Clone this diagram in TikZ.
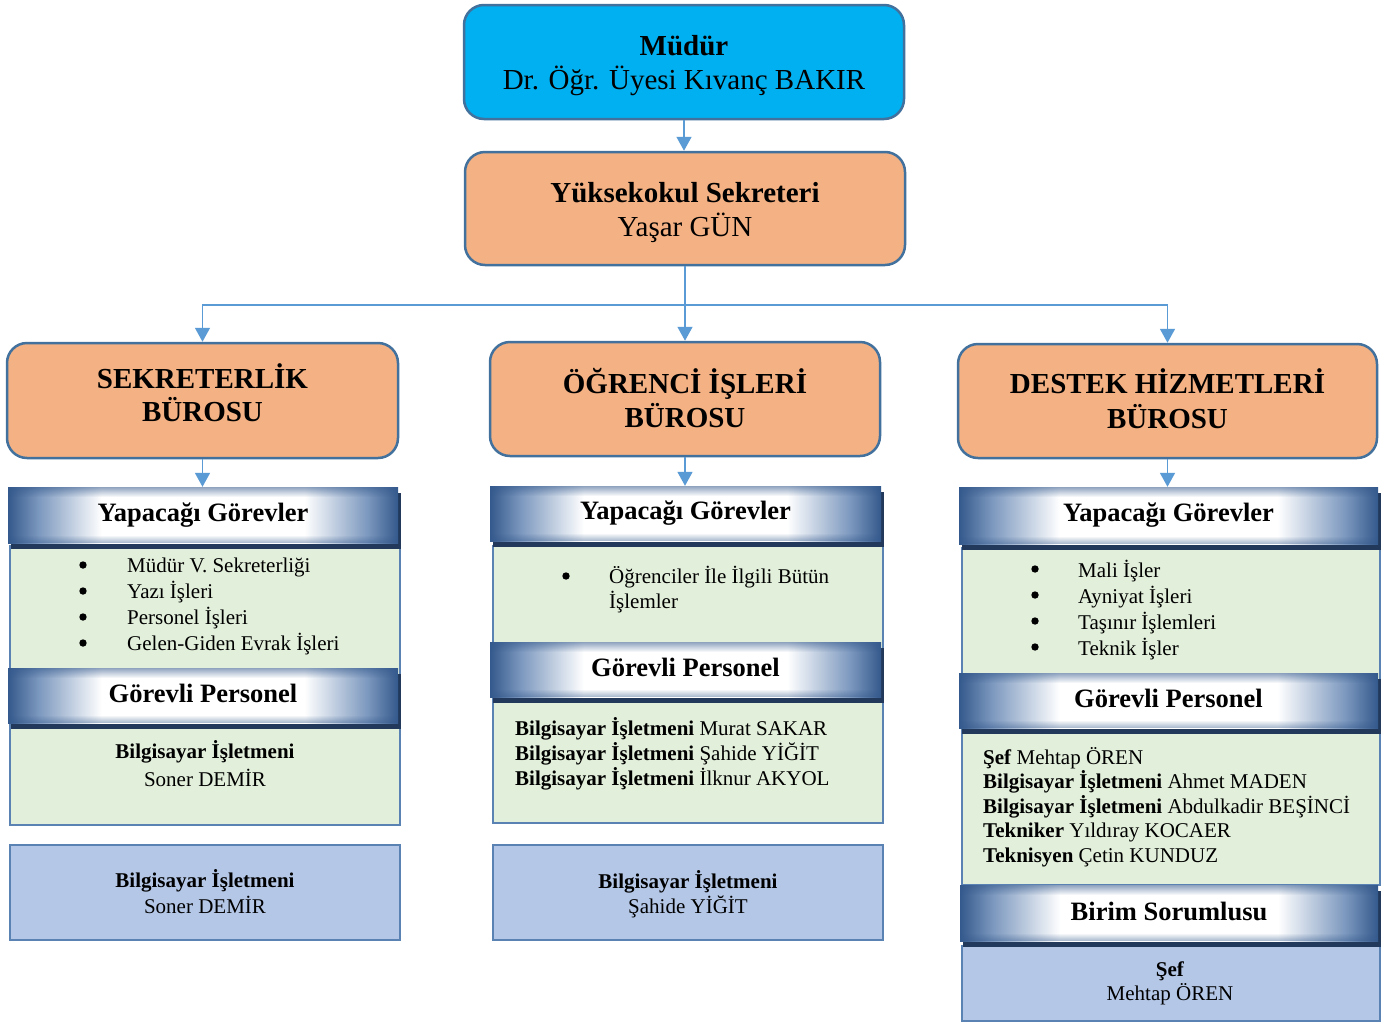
\documentclass[tikz,border=0pt]{standalone}
\usepackage{fontspec}
\setmainfont{Liberation Serif}
\usetikzlibrary{arrows.meta,fadings}
\definecolor{cyanbox}{HTML}{00B0F0}
\definecolor{orangebox}{HTML}{F4B183}
\definecolor{edgeblue}{HTML}{41719C}
\definecolor{linkblue}{HTML}{5B9BD5}
\definecolor{greenpanel}{HTML}{E2EFDA}
\definecolor{bluepanel}{HTML}{B4C7E7}
\definecolor{paneledge}{HTML}{5A82B2}
\definecolor{bardark}{HTML}{34598C}
\definecolor{barmid}{HTML}{7D99BF}
\definecolor{barshadow}{HTML}{22395C}
\pgfdeclarehorizontalshading{barshade}{100bp}{color(0bp)=(bardark); color(25bp)=(bardark); color(29bp)=(barmid); color(37bp)=(white); color(63bp)=(white); color(71bp)=(barmid); color(75bp)=(bardark); color(100bp)=(bardark)}
\tikzfading[name=fadedown, top color=transparent!0, bottom color=transparent!100]
\tikzfading[name=fadeup, top color=transparent!100, bottom color=transparent!0]
\tikzset{
  roundbox/.style={draw=edgeblue, line width=2.5pt, rounded corners=20pt, inner sep=0pt},
  titletext/.style={align=center, inner sep=0pt, font=\fontsize{29}{34}\selectfont},
  headtext/.style={inner sep=0pt, font=\bfseries\fontsize{26.5}{30}\selectfont},
  bodytext/.style={inner sep=0pt, font=\fontsize{21}{26}\selectfont},
  greenbox/.style={fill=greenpanel, draw=paneledge, line width=2pt},
  bluebox/.style={fill=bluepanel, draw=paneledge, line width=2.5pt},
  bulletdot/.style={fill=black},
  link/.style={draw=linkblue, line width=1.6pt, -{Triangle[length=14pt,width=15pt]}}
}
\newcommand{\mybar}[7]{%
  \fill[barshadow] ({#2+3},{#3+6}) rectangle ({#4+3},{#5+6});
  \shade[shading=barshade] (#2,#3) rectangle (#4,#5);
  \fill[bardark,fill opacity=0.55,path fading=fadedown] (#2,#3) rectangle (#4,{#3+10});
  \fill[bardark,fill opacity=0.45,path fading=fadeup] (#2,{#5-8}) rectangle (#4,#5);
  \node[minimum width={#4-#2},minimum height={#5-#3},inner sep=0pt] (#1) at ({(#2+#4)/2},{(#3+#5)/2}) {};
  \node[headtext,#7] (#1txt) at ({(#2+#4)/2},{(#3+#5)/2}) {#6};
}
\begin{document}
\begin{tikzpicture}[x=1pt,y=-1pt]
\useasboundingbox (0,0) rectangle (1392,1023);
\fill[white] (0,0) rectangle (1392,1023);

% top boxes
\node[roundbox, fill=cyanbox, minimum width=440pt, minimum height=114pt] (mudur) at (684,62) {};
\node[titletext] (mudurtxt) at (684,66) {\textbf{Müdür}\\Dr. Öğr. Üyesi Kıvanç BAKIR};
\node[roundbox, fill=orangebox, minimum width=440pt, minimum height=113pt] (yuksek) at (685,208.5) {};
\node[titletext] (yuksektxt) at (685,213) {\textbf{Yüksekokul Sekreteri}\\Yaşar GÜN};

% second row
\node[roundbox, fill=orangebox, minimum width=391pt, minimum height=115pt] (sekr) at (202.5,400.5) {};
\node[titletext, font=\bfseries\fontsize{29}{33}\selectfont] (sekrtxt) at (202.5,393) {SEKRETERLİK\\BÜROSU};
\node[roundbox, fill=orangebox, minimum width=390pt, minimum height=114pt] (ogr) at (685,399) {};
\node[titletext, font=\bfseries\fontsize{29}{34}\selectfont] (ogrtxt) at (685,398) {ÖĞRENCİ İŞLERİ\\BÜROSU};
\node[roundbox, fill=orangebox, minimum width=419pt, minimum height=114pt] (destek) at (1167.5,401) {};
\node[titletext, font=\bfseries\fontsize{29}{35}\selectfont] (destektxt) at (1167.5,399) {DESTEK HİZMETLERİ\\BÜROSU};

% connectors top
\draw[link] (mudur.south) -- (mudur.south |- yuksek.north);
\coordinate (j) at (684,305);
\draw[link] (yuksek.south) -- (yuksek.south |- ogr.north);
\draw[link] (j) -| (sekr.north);
\draw[link] (j) -| (destek.north);

% left column
\draw[greenbox] (10,546) rectangle (400,825);
\mybar{lh1}{8}{487}{398}{543}{Yapacağı Görevler}{}
\mybar{lh2}{8}{668}{398}{723}{Görevli Personel}{yshift=2pt}
\foreach \yy in {565,591,617,643} \fill[bulletdot] (83,\yy) circle (3.7pt);
\node[bodytext, align=left, anchor=west] (llist) at (127,606.5) {Müdür V. Sekreterliği\\Yazı İşleri\\Personel İşleri\\Gelen-Giden Evrak İşleri};
\node[bodytext, align=center, font=\fontsize{21}{28}\selectfont] (lpers) at (205,764) {\textbf{Bilgisayar İşletmeni}\\Soner DEMİR};
\draw[bluebox] (10,845) rectangle (400,940);
\node[bodytext, align=center] (lblue) at (205,892) {\textbf{Bilgisayar İşletmeni}\\Soner DEMİR};

% middle column
\draw[greenbox] (493,546) rectangle (883,823);
\mybar{mh1}{490}{486}{881}{541}{Yapacağı Görevler}{}
\mybar{mh2}{490}{642}{881}{697}{Görevli Personel}{yshift=2pt}
\fill[bulletdot] (566,576) circle (3.7pt);
\node[bodytext, align=left, anchor=west, font=\fontsize{21}{25}\selectfont] (mlist) at (609,589.5) {Öğrenciler İle İlgili Bütün\\İşlemler};
\node[bodytext, align=left, anchor=west, font=\fontsize{21}{25}\selectfont] (mpers) at (515,754) {\textbf{Bilgisayar İşletmeni} Murat SAKAR\\\textbf{Bilgisayar İşletmeni} Şahide YİĞİT\\\textbf{Bilgisayar İşletmeni} İlknur AKYOL};
\draw[bluebox] (493,845) rectangle (883,940);
\node[bodytext, align=center, font=\fontsize{21}{25}\selectfont] (mblue) at (688,894) {\textbf{Bilgisayar İşletmeni}\\Şahide YİĞİT};

% right column
\draw[greenbox] (962,548) rectangle (1380,885);
\mybar{rh1}{959}{487}{1378}{544}{Yapacağı Görevler}{}
\mybar{rh2}{959}{673}{1378}{728}{Görevli Personel}{yshift=2pt}
\foreach \yy in {569,595,621,647} \fill[bulletdot] (1035,\yy) circle (3.7pt);
\node[bodytext, align=left, anchor=west] (rlist) at (1078,610) {Mali İşler\\Ayniyat İşleri\\Taşınır İşlemleri\\Teknik İşler};
\node[bodytext, align=left, anchor=west, font=\fontsize{21}{24.5}\selectfont] (rpers) at (983,807) {\textbf{Şef} Mehtap ÖREN\\\textbf{Bilgisayar İşletmeni} Ahmet MADEN\\\textbf{Bilgisayar İşletmeni} Abdulkadir BEŞİNCİ\\\textbf{Tekniker} Yıldıray KOCAER\\\textbf{Teknisyen} Çetin KUNDUZ};
\draw[bluebox] (962,946) rectangle (1380,1021);
\mybar{rh3}{960}{885}{1378}{941}{Birim Sorumlusu}{yshift=2pt}
\node[bodytext, align=center, font=\fontsize{21}{24.5}\selectfont] (rblue) at (1170,983.5) {\textbf{Şef}\\Mehtap ÖREN};

% connectors to panels
\draw[link] (sekr.south) -- (sekr.south |- lh1.north);
\draw[link] (ogr.south) -- (ogr.south |- mh1.north);
\draw[link] (destek.south) -- (destek.south |- rh1.north);
\end{tikzpicture}
\end{document}
